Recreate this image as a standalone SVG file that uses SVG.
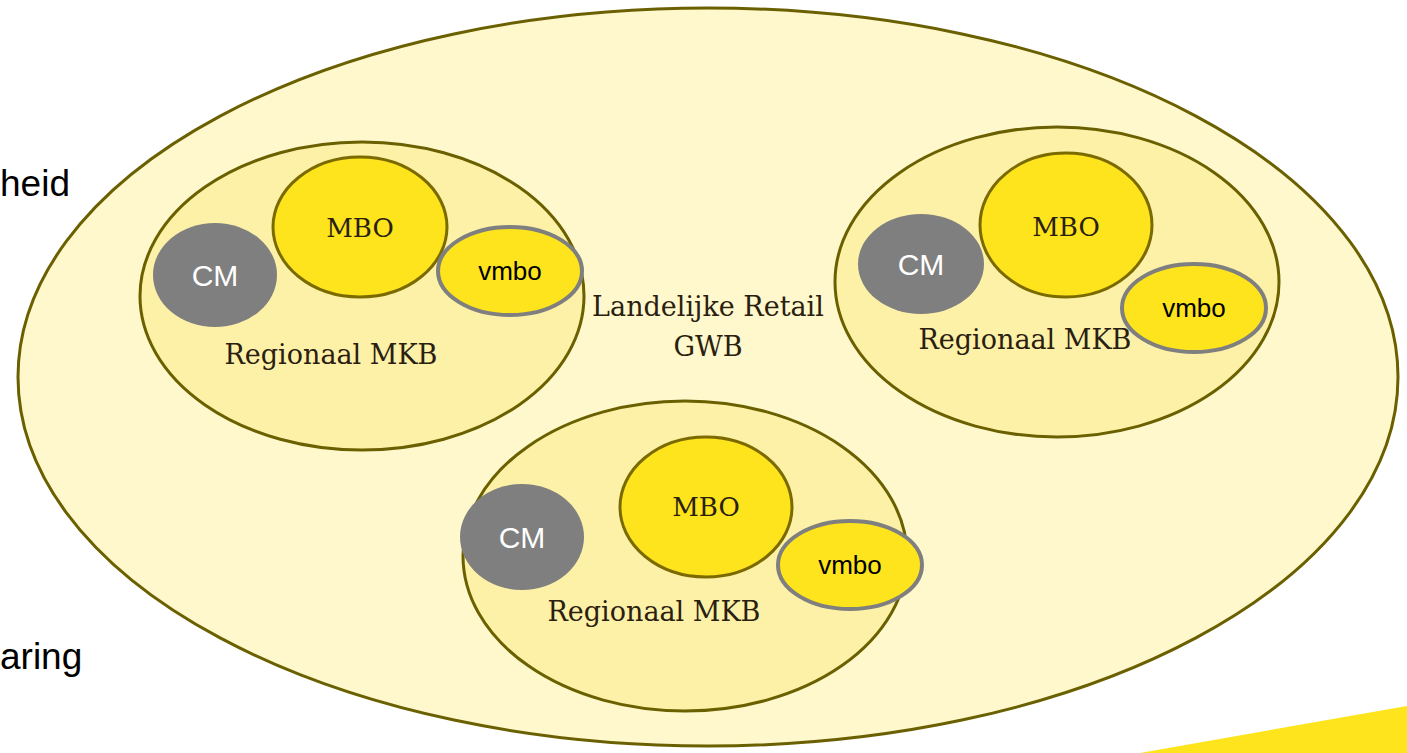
<svg xmlns="http://www.w3.org/2000/svg" width="1407" height="753" viewBox="0 0 1407 753">
<style>
.outer{fill:#fff8cc;stroke:#6b6000;stroke-width:3}
.region{fill:#fdf1a8;stroke:#6b6000;stroke-width:3}
.mbo{fill:#fde41c;stroke:#7a6a00;stroke-width:3}
.cm{fill:#7f7f7f}
.vmbo{fill:#fde41c;stroke:#7f7f7f;stroke-width:4}
.serif{font-family:"DejaVu Serif","Liberation Serif",serif;fill:#2a2010;text-anchor:middle}
.sans{font-family:"Liberation Sans",Arial,sans-serif;text-anchor:middle}
</style>
<rect width="1407" height="753" fill="#ffffff"/>
<text x="0" y="196" font-family="Liberation Sans, Arial, sans-serif" font-size="37" fill="#000">heid</text>
<text x="0" y="669" font-family="Liberation Sans, Arial, sans-serif" font-size="37" fill="#000">aring</text>
<polygon points="1140,753 1407,706 1407,753" fill="#fde41c"/>
<g id="landelijk">
<ellipse class="outer" cx="708" cy="377" rx="690" ry="369"/>
<text class="serif" x="708" y="316" font-size="27">Landelijke Retail</text>
<text class="serif" x="708" y="356" font-size="27">GWB</text>
</g>
<g id="region-left">
<ellipse class="region" cx="362" cy="296" rx="222" ry="154"/>
<text class="serif" x="331" y="364" font-size="27">Regionaal MKB</text>
</g>
<g id="region-right">
<ellipse class="region" cx="1057" cy="282" rx="222" ry="155"/>
<text class="serif" x="1025" y="349" font-size="27">Regionaal MKB</text>
</g>
<g id="region-bottom">
<ellipse class="region" cx="685" cy="556" rx="222" ry="155"/>
<text class="serif" x="654" y="621" font-size="27">Regionaal MKB</text>
</g>
<g id="mbo-left"><ellipse class="mbo" cx="360" cy="227" rx="87" ry="70"/><text class="serif" x="360" y="237" font-size="26">MBO</text></g>
<g id="mbo-right"><ellipse class="mbo" cx="1066" cy="225" rx="86" ry="72"/><text class="serif" x="1066" y="236" font-size="26">MBO</text></g>
<g id="mbo-bottom"><ellipse class="mbo" cx="706" cy="507" rx="86" ry="70"/><text class="serif" x="706" y="516" font-size="26">MBO</text></g>
<g id="cm-left"><ellipse class="cm" cx="215" cy="275" rx="62" ry="52"/><text class="sans" x="215" y="286" font-size="30" fill="#fff">CM</text></g>
<g id="cm-right"><ellipse class="cm" cx="921" cy="264" rx="63" ry="50"/><text class="sans" x="921" y="275" font-size="30" fill="#fff">CM</text></g>
<g id="cm-bottom"><ellipse class="cm" cx="522" cy="537" rx="62" ry="53"/><text class="sans" x="522" y="548" font-size="30" fill="#fff">CM</text></g>
<g id="vmbo-left"><ellipse class="vmbo" cx="510" cy="271" rx="72" ry="44"/><text class="sans" x="510" y="280" font-size="26" fill="#000">vmbo</text></g>
<g id="vmbo-right"><ellipse class="vmbo" cx="1194" cy="308" rx="72" ry="44"/><text class="sans" x="1194" y="317" font-size="26" fill="#000">vmbo</text></g>
<g id="vmbo-bottom"><ellipse class="vmbo" cx="850" cy="565" rx="72" ry="44"/><text class="sans" x="850" y="574" font-size="26" fill="#000">vmbo</text></g>
<g id="connectors"></g>
</svg>
